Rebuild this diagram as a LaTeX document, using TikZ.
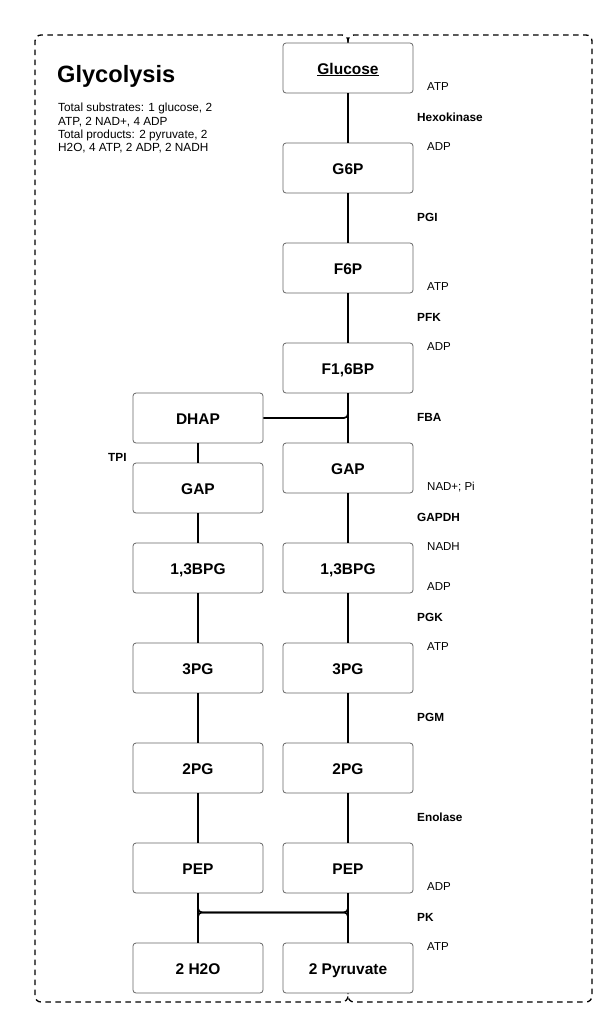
\documentclass[tikz,border=0pt]{standalone}
\usepackage{fontspec}
\setmainfont{Liberation Sans}
\usepackage{tikz}
\usetikzlibrary{positioning}

\tikzset{
  mol/.style={draw=black!60, line width=0.8pt, rounded corners=3pt, fill=white,
    minimum width=130pt, minimum height=50pt, inner sep=0pt,
    text height=12pt, text depth=0pt,
    font=\fontsize{15.5}{18}\selectfont\bfseries},
  link/.style={line width=1.7pt, rounded corners=4pt},
  border/.style={line width=1.3pt, dash pattern=on 5.5pt off 4.5pt, rounded corners=6pt},
  cof/.style={anchor=west, inner sep=0pt, font=\fontsize{11.5}{13}\selectfont},
  enz/.style={anchor=west, inner sep=0pt, font=\fontsize{11.8}{13}\selectfont\bfseries},
}

\begin{document}
\begin{tikzpicture}[x=1pt, y=-1pt]
  \useasboundingbox (0,0) rectangle (611,1021);
  % Main chain (right column)
  \node[mol] (glc) at (348,68) {\underline{Glucose}};
  \node[mol] (g6p) at (348,168) {G6P};
  \node[mol] (f6p) at (348,268) {F6P};
  \node[mol] (fbp) at (348,368) {F1,6BP};
  \node[mol] (gapR) at (348,468) {GAP};
  % Side branch (left column)
  \node[mol] (dhap) at (198,418) {DHAP};
  \node[mol] (gapL) at (198,488) {GAP};
  % Paired steps
  \foreach \n/\lab/\y in {bpg/{1,3BPG}/568, tpg/3PG/668, dpg/2PG/768, pep/PEP/868} {
    \node[mol] (\n L) at (198,\y) {\lab};
    \node[mol] (\n R) at (348,\y) {\lab};
  }
  \node[mol] (h2o) at (198,968) {2 H2O};
  \node[mol] (pyr) at (348,968) {2 Pyruvate};
  % Outer loop
  \draw[border] (glc.north) -- (348,35) -- (35,35) -- (35,1002) -- (348,1002) -- (pyr.south);
  \draw[border] (glc.north) -- (348,35) -- (592,35) -- (592,1002) -- (348,1002) -- (pyr.south);
  % Connectors
  \foreach \a/\b in {glc/g6p, g6p/f6p, f6p/fbp, fbp/gapR, gapR/bpgR, bpgR/tpgR,
    tpgR/dpgR, dpgR/pepR, pepR/pyr, dhap/gapL, gapL/bpgL, bpgL/tpgL, tpgL/dpgL,
    dpgL/pepL, pepL/h2o} {
    \draw[link] (\a) -- (\b);
  }
  \draw[link] (dhap.east) -- (fbp.south |- dhap.east) -- (fbp.south);
  \draw[link] (pepL.south) -- ++(0,19) -| (pyr.north);
  \draw[link] (pepR.south) -- ++(0,19) -| (h2o.north);
  % Title and totals
  \node[anchor=base west, inner sep=0pt, font=\fontsize{23.6}{28}\selectfont\bfseries] (title) at (57,82) {Glycolysis};
  \node[anchor=north west, align=left, inner sep=0pt, font=\fontsize{11.8}{13.4}\selectfont]
    (totals) at (58,103) {Total substrates: 1 glucose, 2\\ATP, 2 NAD+, 4 ADP\\Total products: 2 pyruvate, 2\\H2O, 4 ATP, 2 ADP, 2 NADH};
  % Enzymes
  \foreach \lab/\y [count=\k] in {Hexokinase/117, PGI/217, PFK/317, FBA/417, GAPDH/517,
    PGK/617, PGM/717, Enolase/817, PK/917} {
    \node[enz] (enz\k) at (417,\y) {\lab};
  }
  \node[enz] (tpi) at (108,457) {TPI};
  % Cofactors
  \foreach \lab/\y [count=\k] in {ATP/87, ADP/147, ATP/287, ADP/347, NAD+; Pi/487, NADH/547,
    ADP/587, ATP/647, ADP/887, ATP/947} {
    \node[cof] (cof\k) at (427,\y) {\lab};
  }
\end{tikzpicture}
\end{document}
